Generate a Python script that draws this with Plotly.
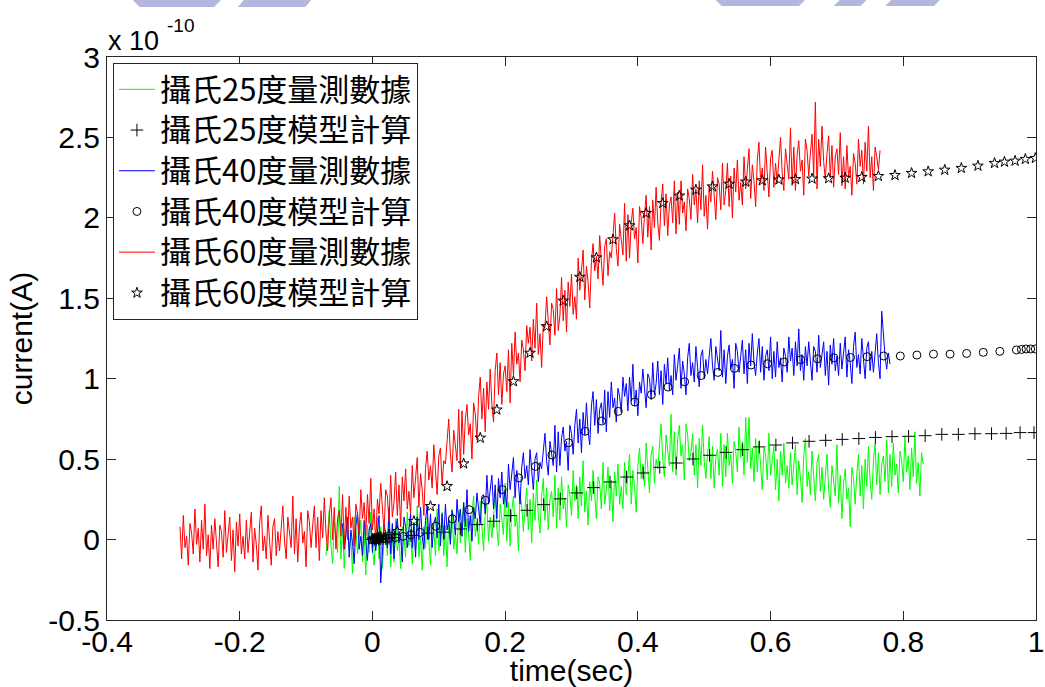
import numpy as np
import plotly.graph_objects as go

# ---- measured currents (x 1e-10 A), sampled every 2.5 ms ----
DT = 0.0025

T0_25 = -0.07
MEAS_25 = [
    -0.10, 0.06, 0.18, -0.04, -0.15, 0.11, 0.02, -0.08, 0.33, -0.12, 0.09, -0.18, 0.04, 0.13, -0.06, 0.01, -0.21, 0.14, 0.07, -0.09,
    0.00, 0.12, -0.14, 0.05, -0.22, 0.09, -0.08, 0.17, -0.05, -0.16, 0.03, 0.14, -0.12, 0.08, -0.18, 0.01, 0.06, -0.10, 0.16, -0.17,
    0.06, -0.14, 0.13, -0.07, 0.00, -0.18, 0.08, 0.02, -0.11, 0.17, -0.04, 0.06, -0.15, 0.11, -0.07, 0.21, -0.11, 0.02, -0.19, 0.08,
    -0.05, 0.14, -0.01, -0.16, 0.10, 0.06, -0.10, 0.19, -0.07, 0.02, 0.17, -0.10, 0.09, -0.17, 0.14, -0.01, 0.19, -0.06, 0.05, -0.09,
    0.18, -0.02, 0.10, 0.23, -0.08, 0.13, 0.03, -0.13, 0.16, 0.27, 0.02, 0.11, -0.03, 0.24, 0.08, -0.07, 0.17, 0.22, -0.01, 0.14,
    0.01, 0.17, 0.29, 0.07, -0.04, 0.22, 0.13, 0.03, 0.35, -0.01, 0.23, -0.04, 0.18, 0.27, 0.08, 0.15, -0.07, 0.28, 0.21, 0.05,
    0.20, 0.32, 0.06, 0.25, -0.02, 0.29, 0.12, 0.37, 0.15, 0.04, 0.27, 0.38, 0.12, 0.32, 0.06, 0.25, 0.30, 0.14, 0.40, 0.07,
    0.32, 0.12, 0.39, 0.19, 0.26, 0.08, 0.34, 0.28, 0.15, 0.43, 0.24, 0.34, 0.13, 0.39, 0.21, 0.49, 0.17, 0.30, 0.09, 0.36,
    0.24, 0.43, 0.28, 0.13, 0.39, 0.35, 0.19, 0.48, 0.22, 0.31, 0.45, 0.18, 0.37, 0.11, 0.42, 0.27, 0.47, 0.22, 0.33, 0.19,
    0.48, 0.28, 0.40, 0.53, 0.22, 0.43, 0.33, 0.17, 0.46, 0.57, 0.38, 0.47, 0.33, 0.60, 0.44, 0.29, 0.53, 0.58, 0.35, 0.50,
    0.44, 0.60, 0.72, 0.50, 0.39, 0.65, 0.56, 0.46, 0.78, 0.42, 0.67, 0.40, 0.62, 0.71, 0.52, 0.59, 0.37, 0.72, 0.65, 0.49,
    0.54, 0.66, 0.40, 0.59, 0.32, 0.63, 0.46, 0.71, 0.49, 0.38, 0.53, 0.64, 0.38, 0.58, 0.32, 0.51, 0.56, 0.40, 0.66, 0.33,
    0.59, 0.39, 0.66, 0.46, 0.53, 0.35, 0.61, 0.55, 0.42, 0.70, 0.51, 0.61, 0.40, 0.76, 0.48, 0.76, 0.44, 0.57, 0.36, 0.63,
    0.42, 0.61, 0.46, 0.31, 0.57, 0.53, 0.37, 0.66, 0.40, 0.49, 0.58, 0.31, 0.50, 0.24, 0.55, 0.40, 0.60, 0.35, 0.46, 0.32,
    0.54, 0.34, 0.46, 0.59, 0.28, 0.49, 0.39, 0.23, 0.52, 0.63, 0.33, 0.42, 0.28, 0.55, 0.39, 0.24, 0.48, 0.53, 0.30, 0.45,
    0.25, 0.41, 0.53, 0.31, 0.20, 0.46, 0.37, 0.27, 0.59, 0.23, 0.40, 0.13, 0.35, 0.44, 0.25, 0.32, 0.08, 0.45, 0.38, 0.22,
    0.41, 0.53, 0.27, 0.46, 0.19, 0.50, 0.33, 0.58, 0.36, 0.25, 0.49, 0.60, 0.34, 0.54, 0.28, 0.47, 0.52, 0.36, 0.62, 0.29,
    0.53, 0.33, 0.60, 0.40, 0.47, 0.29, 0.55, 0.49, 0.36, 0.64, 0.42, 0.52, 0.31, 0.57, 0.39, 0.67, 0.35, 0.48, 0.27, 0.54,
    0.47,
]

T0_40 = -0.045
MEAS_40 = [
    0.10, -0.06, 0.03, 0.14, -0.11, 0.06, -0.02, -0.15, 0.08, 0.17, -0.06, 0.02, -0.10, 0.12, -0.01, -0.13, 0.06, 0.10, -0.08, 0.04,
    -0.07, 0.06, 0.15, -0.27, -0.11, 0.10, 0.03, -0.05, 0.20, -0.09, 0.10, -0.12, 0.06, 0.13, -0.02, 0.03, -0.14, 0.14, 0.08, -0.05,
    0.06, 0.16, -0.05, 0.10, -0.11, 0.14, 0.00, 0.20, 0.02, -0.06, 0.12, 0.21, 0.00, 0.16, -0.05, 0.10, 0.14, 0.01, 0.22, -0.04,
    0.16, 0.00, 0.22, 0.06, 0.12, -0.03, 0.18, 0.13, 0.03, 0.25, 0.11, 0.19, 0.02, 0.23, 0.08, 0.31, 0.05, 0.15, -0.01, 0.20,
    0.13, 0.29, 0.19, 0.10, 0.27, 0.28, 0.16, 0.40, 0.22, 0.30, 0.40, 0.19, 0.34, 0.13, 0.38, 0.26, 0.42, 0.22, 0.31, 0.20,
    0.47, 0.31, 0.40, 0.51, 0.26, 0.43, 0.35, 0.22, 0.45, 0.54, 0.38, 0.46, 0.34, 0.56, 0.43, 0.31, 0.50, 0.54, 0.36, 0.48,
    0.44, 0.57, 0.66, 0.49, 0.40, 0.61, 0.54, 0.46, 0.71, 0.42, 0.67, 0.46, 0.63, 0.70, 0.55, 0.61, 0.43, 0.71, 0.66, 0.53,
    0.71, 0.81, 0.60, 0.75, 0.54, 0.79, 0.65, 0.85, 0.67, 0.59, 0.83, 0.92, 0.71, 0.87, 0.66, 0.81, 0.85, 0.72, 0.93, 0.67,
    0.92, 0.76, 0.98, 0.82, 0.88, 0.73, 0.94, 0.89, 0.79, 1.01, 0.89, 0.97, 0.80, 1.01, 0.86, 1.09, 0.83, 0.93, 0.77, 0.98,
    0.91, 1.06, 0.94, 0.82, 1.03, 1.00, 0.87, 1.10, 0.90, 0.97, 1.11, 0.90, 1.05, 0.84, 1.09, 0.97, 1.13, 0.93, 1.02, 0.90,
    1.15, 0.99, 1.08, 1.19, 0.94, 1.11, 1.03, 0.90, 1.13, 1.22, 1.02, 1.10, 0.98, 1.20, 1.07, 0.95, 1.14, 1.18, 1.00, 1.12,
    1.03, 1.16, 1.25, 1.08, 0.99, 1.20, 1.13, 1.05, 1.30, 1.01, 1.18, 0.97, 1.14, 1.21, 1.06, 1.12, 0.94, 1.22, 1.17, 1.04,
    1.14, 1.24, 1.03, 1.18, 0.97, 1.22, 1.08, 1.28, 1.10, 1.02, 1.16, 1.25, 1.04, 1.20, 0.99, 1.14, 1.18, 1.05, 1.26, 1.00,
    1.17, 1.01, 1.23, 1.07, 1.13, 0.98, 1.19, 1.14, 1.04, 1.26, 1.11, 1.19, 1.02, 1.23, 1.08, 1.31, 1.05, 1.15, 0.99, 1.20,
    1.08, 1.23, 1.11, 0.99, 1.20, 1.17, 1.04, 1.27, 1.07, 1.14, 1.23, 1.02, 1.17, 0.96, 1.21, 1.09, 1.25, 1.05, 1.14, 1.02,
    1.22, 1.06, 1.15, 1.26, 1.01, 1.18, 1.10, 0.97, 1.20, 1.29, 1.07, 1.15, 1.03, 1.25, 1.12, 1.00, 1.19, 1.23, 1.05, 1.17,
    1.04, 1.19, 1.28, 1.10, 1.00, 1.42, 1.24, 1.14, 1.06, 1.16, 1.09,
]

T0_60 = -0.29
MEAS_60 = [
    0.08, -0.12, 0.15, -0.05, 0.02, -0.16, 0.10, 0.04, -0.09, 0.19, -0.03, 0.07, -0.14, 0.12, -0.06, 0.22, -0.10, 0.03, -0.18, 0.09,
    -0.06, 0.13, -0.02, -0.17, 0.09, 0.05, -0.11, 0.18, -0.08, 0.01, 0.14, -0.13, 0.06, -0.20, 0.11, -0.04, 0.16, -0.09, 0.02, -0.12,
    0.12, -0.08, 0.04, 0.17, -0.14, 0.07, -0.03, -0.19, 0.10, 0.21, -0.07, 0.02, -0.12, 0.15, -0.01, -0.16, 0.08, 0.13, -0.10, 0.05,
    -0.07, 0.09, 0.21, -0.01, -0.12, 0.14, 0.05, -0.05, 0.27, -0.09, 0.13, -0.14, 0.08, 0.17, -0.02, 0.05, -0.17, 0.18, 0.11, -0.05,
    0.09, 0.21, -0.05, 0.14, -0.13, 0.18, 0.01, 0.26, 0.04, -0.07, 0.15, 0.26, 0.00, 0.20, -0.06, 0.13, 0.18, 0.02, 0.28, -0.05,
    0.20, 0.00, 0.27, 0.07, 0.14, -0.04, 0.22, 0.16, 0.03, 0.31, 0.13, 0.23, 0.02, 0.28, 0.10, 0.38, 0.06, 0.19, -0.02, 0.25,
    0.16, 0.35, 0.20, 0.05, 0.31, 0.27, 0.11, 0.40, 0.14, 0.23, 0.42, 0.15, 0.34, 0.08, 0.39, 0.24, 0.44, 0.19, 0.30, 0.16,
    0.46, 0.26, 0.38, 0.51, 0.20, 0.41, 0.31, 0.15, 0.44, 0.55, 0.37, 0.46, 0.32, 0.59, 0.43, 0.28, 0.52, 0.57, 0.34, 0.49,
    0.47, 0.63, 0.75, 0.53, 0.42, 0.68, 0.59, 0.49, 0.81, 0.45, 0.80, 0.53, 0.75, 0.84, 0.65, 0.72, 0.50, 0.85, 0.78, 0.62,
    0.89, 1.01, 0.75, 0.94, 0.67, 0.98, 0.81, 1.06, 0.84, 0.73, 1.05, 1.16, 0.90, 1.10, 0.84, 1.03, 1.08, 0.92, 1.18, 0.85,
    1.22, 1.02, 1.29, 1.09, 1.16, 0.98, 1.24, 1.18, 1.05, 1.33, 1.22, 1.32, 1.11, 1.37, 1.19, 1.47, 1.15, 1.28, 1.07, 1.34,
    1.32, 1.51, 1.36, 1.21, 1.47, 1.43, 1.27, 1.56, 1.30, 1.39, 1.63, 1.36, 1.55, 1.29, 1.60, 1.45, 1.65, 1.40, 1.51, 1.37,
    1.75, 1.55, 1.67, 1.80, 1.49, 1.70, 1.60, 1.44, 1.73, 1.84, 1.67, 1.76, 1.62, 1.89, 1.73, 1.58, 1.82, 1.87, 1.64, 1.79,
    1.75, 1.91, 2.03, 1.81, 1.70, 1.96, 1.87, 1.77, 2.09, 1.73, 2.02, 1.75, 1.97, 2.06, 1.87, 1.94, 1.72, 2.07, 2.00, 1.84,
    2.02, 2.14, 1.88, 2.07, 1.80, 2.11, 1.94, 2.19, 1.97, 1.86, 2.10, 2.21, 1.95, 2.15, 1.89, 2.08, 2.13, 1.97, 2.23, 1.90,
    2.16, 1.96, 2.23, 2.03, 2.10, 1.92, 2.18, 2.12, 1.99, 2.27, 2.08, 2.18, 1.97, 2.23, 2.05, 2.33, 2.01, 2.14, 1.93, 2.20,
    2.10, 2.29, 2.14, 1.99, 2.25, 2.21, 2.05, 2.34, 2.08, 2.17, 2.34, 2.07, 2.26, 2.00, 2.31, 2.16, 2.36, 2.11, 2.22, 2.08,
    2.38, 2.18, 2.30, 2.43, 2.12, 2.33, 2.23, 2.07, 2.36, 2.47, 2.22, 2.31, 2.17, 2.44, 2.28, 2.13, 2.37, 2.42, 2.19, 2.34,
    2.22, 2.38, 2.50, 2.28, 2.17, 2.43, 2.34, 2.24, 2.56, 2.20, 2.44, 2.17, 2.39, 2.48, 2.29, 2.36, 2.14, 2.49, 2.42, 2.26,
    2.40, 2.52, 2.26, 2.72, 2.18, 2.49, 2.32, 2.57, 2.35, 2.24, 2.40, 2.51, 2.25, 2.45, 2.19, 2.38, 2.43, 2.27, 2.53, 2.20,
    2.38, 2.18, 2.45, 2.25, 2.32, 2.14, 2.40, 2.34, 2.21, 2.49, 2.32, 2.42, 2.21, 2.47, 2.29, 2.57, 2.25, 2.38, 2.17, 2.44,
    2.38, 2.30, 2.42,
]

# ---- model results ----
MODEL_25_T = [0.0, 0.003, 0.006, 0.009, 0.012, 0.016, 0.02, 0.025, 0.033, 0.058,
              0.083, 0.108, 0.133, 0.158, 0.183, 0.208, 0.233, 0.258, 0.283, 0.308,
              0.333, 0.358, 0.383, 0.408, 0.433, 0.458, 0.483, 0.508, 0.533, 0.558,
              0.583, 0.608, 0.633, 0.658, 0.683, 0.708, 0.733, 0.758, 0.783, 0.808,
              0.833, 0.858, 0.883, 0.908, 0.933, 0.955, 0.976, 0.997]
MODEL_25_V = [0.0, 0.001, 0.002, 0.003, 0.004, 0.005, 0.006, 0.008, 0.012, 0.025,
              0.040, 0.046, 0.066, 0.093, 0.114, 0.149, 0.182, 0.217, 0.253, 0.290,
              0.323, 0.358, 0.389, 0.414, 0.449, 0.476, 0.501, 0.524, 0.542, 0.559,
              0.576, 0.588, 0.601, 0.611, 0.617, 0.623, 0.628, 0.635, 0.640, 0.642,
              0.646, 0.654, 0.654, 0.658, 0.658, 0.660, 0.665, 0.665]

MODEL_40_T = [0.0, 0.003, 0.006, 0.009, 0.012, 0.016, 0.02, 0.025, 0.034, 0.046,
              0.058, 0.072, 0.0955, 0.1205, 0.1455, 0.1705, 0.1955, 0.2205, 0.2455, 0.2705,
              0.2955, 0.3205, 0.3455, 0.3705, 0.3955, 0.4205, 0.4455, 0.4705, 0.4955, 0.5205,
              0.5455, 0.5705, 0.5955, 0.6205, 0.6455, 0.6705, 0.6955, 0.7205, 0.7455, 0.7705,
              0.7955, 0.8205, 0.8455, 0.8705, 0.8955, 0.9205, 0.9455, 0.9705, 0.978, 0.985,
              0.992, 0.999]
MODEL_40_V = [0.0, 0.001, 0.002, 0.003, 0.004, 0.005, 0.006, 0.008, 0.012, 0.020,
              0.030, 0.045, 0.083, 0.129, 0.186, 0.244, 0.311, 0.383, 0.455, 0.526,
              0.602, 0.673, 0.737, 0.797, 0.855, 0.901, 0.948, 0.981, 1.020, 1.039,
              1.064, 1.085, 1.093, 1.104, 1.118, 1.124, 1.130, 1.132, 1.137, 1.141,
              1.141, 1.147, 1.153, 1.153, 1.157, 1.164, 1.170, 1.179, 1.182, 1.185,
              1.185, 1.185]

MODEL_60_T = [0.0, 0.003, 0.006, 0.009, 0.0125, 0.025, 0.0375, 0.0625, 0.0875, 0.1125,
              0.1375, 0.1625, 0.1875, 0.2125, 0.2375, 0.2625, 0.2875, 0.3125, 0.3375, 0.3625,
              0.3875, 0.4125, 0.4375, 0.4625, 0.4875, 0.5125, 0.5375, 0.5625, 0.5875, 0.6125,
              0.6375, 0.6625, 0.6875, 0.7125, 0.7375, 0.7625, 0.7875, 0.8125, 0.8375, 0.8625,
              0.8875, 0.9125, 0.9375, 0.9525, 0.9685, 0.984, 0.999]
MODEL_60_V = [0.0, 0.003, 0.007, 0.011, 0.016, 0.030, 0.052, 0.114, 0.207, 0.331,
              0.472, 0.632, 0.807, 0.983, 1.160, 1.325, 1.484, 1.632, 1.753, 1.865,
              1.952, 2.029, 2.091, 2.137, 2.174, 2.194, 2.211, 2.224, 2.232, 2.237,
              2.240, 2.243, 2.245, 2.248, 2.253, 2.259, 2.265, 2.278, 2.288, 2.298,
              2.309, 2.323, 2.340, 2.348, 2.354, 2.365, 2.371]

NAMES = ["攝氏25度量測數據", "攝氏25度模型計算",
         "攝氏40度量測數據", "攝氏40度模型計算",
         "攝氏60度量測數據", "攝氏60度模型計算"]

X_TICKS = [-0.4, -0.2, 0, 0.2, 0.4, 0.6, 0.8, 1]
X_TICKTEXT = ["-0.4", "-0.2", "0", "0.2", "0.4", "0.6", "0.8", "1"]
Y_TICKS = [-0.5, 0, 0.5, 1, 1.5, 2, 2.5, 3]
Y_TICKTEXT = ["-0.5", "0", "0.5", "1", "1.5", "2", "2.5", "3"]


def sample_times(t0, values):
    return t0 + DT * np.arange(len(values))


def legend_label(text):
    # legend rows are spaced by the legend font size; the label glyphs are drawn a bit larger
    return f'<span style="font-size:31px">{text}</span>'


W, H = 1045, 687
ML, MR, MT, MB = 107, 1, 57, 67
PW, PH = W - ML - MR, H - MT - MB


def paper(px, py):
    return (px - ML) / PW, (H - MB - py) / PH


fig = go.Figure()

MARKER_LINE = dict(color="black", width=1)
fig.add_trace(go.Scatter(x=sample_times(T0_25, MEAS_25), y=MEAS_25, mode="lines",
                         name=legend_label(NAMES[0]), line=dict(color="#00ff00", width=1)))
fig.add_trace(go.Scatter(x=MODEL_25_T, y=MODEL_25_V, mode="markers",
                         name=legend_label(NAMES[1]),
                         marker=dict(symbol="cross-thin-open", size=9, line=MARKER_LINE,
                                     color="black")))
fig.add_trace(go.Scatter(x=sample_times(T0_40, MEAS_40), y=MEAS_40, mode="lines",
                         name=legend_label(NAMES[2]), line=dict(color="#0000ff", width=1)))
fig.add_trace(go.Scatter(x=MODEL_40_T, y=MODEL_40_V, mode="markers",
                         name=legend_label(NAMES[3]),
                         marker=dict(symbol="circle-open", size=8, line=MARKER_LINE,
                                     color="black")))
fig.add_trace(go.Scatter(x=sample_times(T0_60, MEAS_60), y=MEAS_60, mode="lines",
                         name=legend_label(NAMES[4]), line=dict(color="#ff0000", width=1)))
fig.add_trace(go.Scatter(x=MODEL_60_T, y=MODEL_60_V, mode="markers",
                         name=legend_label(NAMES[5]),
                         marker=dict(symbol="star-open", size=8, line=MARKER_LINE,
                                     color="black")))

# faint logo fragments along the top edge of the page
LOGO = "#b3b6de"
logo_polys = [
    [(133, 0), (222, 0), (215, 7), (140, 7)],
    [(245, 0), (313, 0), (307, 7), (239, 7)],
    [(721, 0), (811, 0), (805, 6), (727, 6)],
    [(846, 0), (873, 0), (867, 6), (840, 6)],
    [(898, 0), (947, 0), (941, 6), (892, 6)],
]
shapes = []
for poly in logo_polys:
    pts = [paper(x, y) for x, y in poly]
    path = "M " + " L ".join(f"{a:.5f},{b:.5f}" for a, b in pts) + " Z"
    shapes.append(dict(type="path", xref="paper", yref="paper", path=path,
                       fillcolor=LOGO, line=dict(width=0), layer="above"))

SANS = "Liberation Sans, Arial, sans-serif"
ax_font = dict(family=SANS, size=30, color="black")
axis_common = dict(showgrid=False, zeroline=False, showline=True, linecolor="#262626",
                   linewidth=1, mirror="ticks", ticks="inside", ticklen=9,
                   tickcolor="#262626", tickwidth=1, tickfont=ax_font,
                   ticklabeloverflow="allow")

fig.update_layout(
    width=W, height=H,
    margin=dict(l=ML, r=MR, t=MT, b=MB, pad=0),
    paper_bgcolor="white", plot_bgcolor="white",
    shapes=shapes,
    xaxis=dict(range=[-0.4, 1], tickvals=X_TICKS, ticktext=X_TICKTEXT,
               ticklabelstandoff=-5,
               title=dict(text="time(sec)", font=ax_font, standoff=4), **axis_common),
    yaxis=dict(range=[-0.5, 3], tickvals=Y_TICKS, ticktext=Y_TICKTEXT,
               title=dict(text="current(A)", font=ax_font, standoff=6), **axis_common),
    legend=dict(x=(113 - ML) / PW, y=1 - (63 - MT) / PH, xanchor="left", yanchor="top",
                bgcolor="white", bordercolor="#262626", borderwidth=1, itemwidth=36,
                font=dict(family="Noto Sans CJK TC, sans-serif", size=29, color="black"),
                tracegroupgap=0),
    annotations=[
        dict(text="x 10", xref="paper", yref="paper", x=paper(106, 0)[0],
             y=paper(0, 41)[1], xanchor="left", yanchor="middle", showarrow=False,
             font=dict(family=SANS, size=27, color="black")),
        dict(text="-10", xref="paper", yref="paper", x=paper(165, 0)[0],
             y=paper(0, 25)[1], xanchor="left", yanchor="middle", showarrow=False,
             font=dict(family=SANS, size=19, color="black")),
    ],
    showlegend=True,
)

fig.write_html("out.html")
